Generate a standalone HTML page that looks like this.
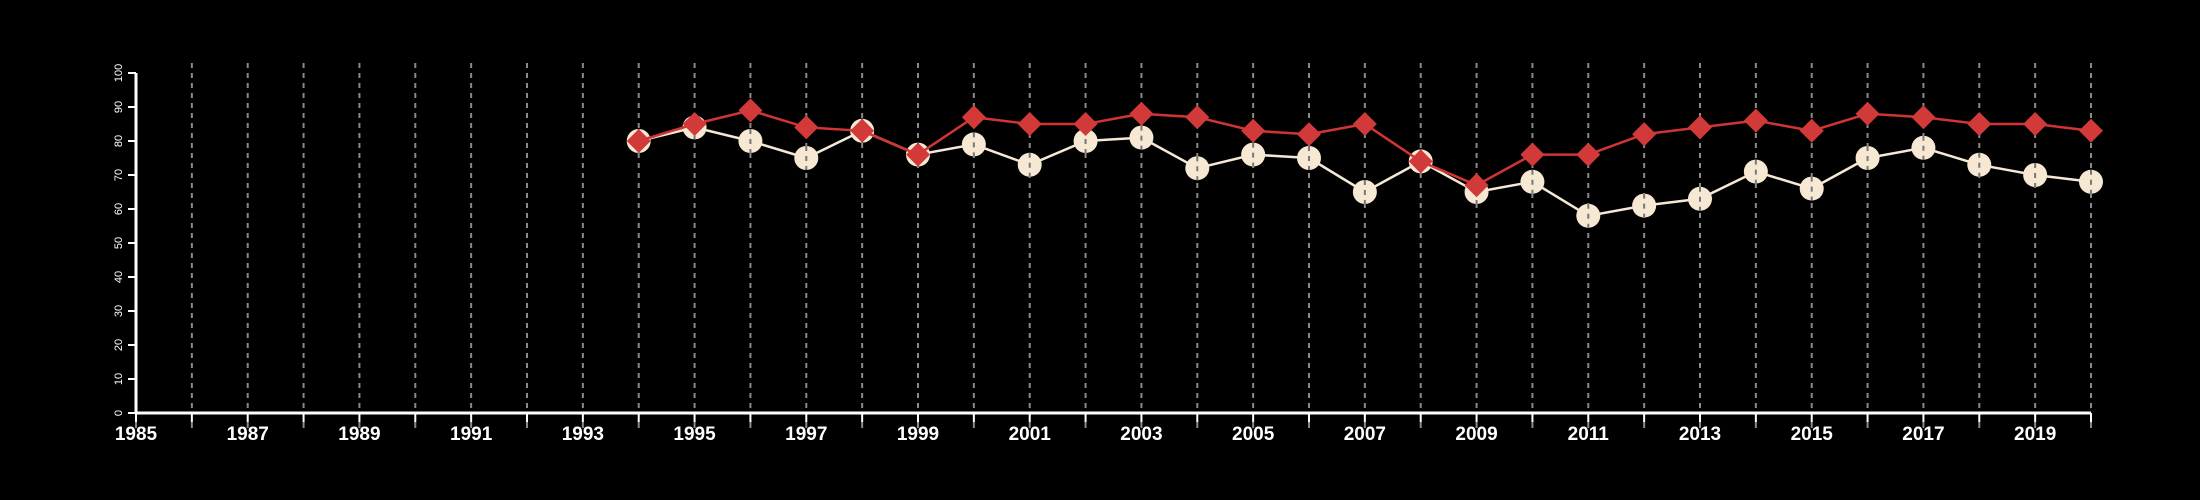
<!DOCTYPE html>
<html><head><meta charset="utf-8"><style>
html,body{margin:0;padding:0;background:#000;}
svg{display:block;font-family:"Liberation Sans",Arial,sans-serif;}
</style></head><body>
<svg id="chart" width="2200" height="500" viewBox="0 0 2200 500">
<rect width="2200" height="500" fill="#000"/>
<g id="grid"></g><g id="axes"></g><g id="series"></g>
</svg>
<script>
const years = [1994,1995,1996,1997,1998,1999,2000,2001,2002,2003,2004,2005,2006,2007,2008,2009,2010,2011,2012,2013,2014,2015,2016,2017,2018,2019,2020];
const redValues = [80,85,89,84,83,76,87,85,85,88,87,83,82,85,74,67,76,76,82,84,86,83,88,87,85,85,83];
const whiteValues = [80,84,80,75,83,76,79,73,80,81,72,76,75,65,74,65,68,58,61,63,71,66,75,78,73,70,68];
const yTicks = [0,10,20,30,40,50,60,70,80,90,100];
const xStart = 1985, xEnd = 2020;

const NS = "http://www.w3.org/2000/svg";
const X = y => 136 + (y - xStart) * (2091 - 136) / (xEnd - xStart);
const Y = v => 413 - v * (413 - 73) / 100;
function mk(tag, attrs, parent){const e=document.createElementNS(NS,tag);for(const k in attrs)e.setAttribute(k,attrs[k]);parent.appendChild(e);return e;}
const grid=document.getElementById('grid'),axes=document.getElementById('axes'),series=document.getElementById('series');

for(let yr=xStart+1; yr<=xEnd; yr++){
  const l=mk('line',{x1:X(yr),x2:X(yr),y1:63,y2:413,stroke:'#8a8a8a','stroke-width':2,'stroke-dasharray':'5,5'},grid);
  
  
}
const xa=mk('line',{x1:X(xStart),x2:X(xEnd),y1:413,y2:413,stroke:'#fff','stroke-width':3},axes);


for(let yr=xStart; yr<=xEnd; yr++){
  const t=mk('line',{x1:X(yr),x2:X(yr),y1:413,y2:422,stroke:'#fff','stroke-width':2},axes);
  
  
  const d=mk('line',{x1:X(yr),x2:X(yr),y1:422,y2:428,stroke:'#8a8a8a','stroke-width':2},axes);
  
  
  if((yr-xStart)%2===0){
    const tx=mk('text',{x:X(yr),y:440,fill:'#fff','font-size':19,'font-weight':'bold','text-anchor':'middle'},axes);
    tx.textContent=yr;
    
    
  }
}
const ya=mk('line',{x1:136,x2:136,y1:Y(0),y2:Y(100),stroke:'#fff','stroke-width':3},axes);


yTicks.forEach(v=>{
  const t=mk('line',{x1:128,x2:136,y1:Y(v),y2:Y(v),stroke:'#fff','stroke-width':2},axes);
  
  
  const tx=mk('text',{x:0,y:0,fill:'#fff','font-size':11,'text-anchor':'middle',transform:`translate(122,${Y(v)}) rotate(-90)`},axes);
  tx.textContent=v;
  
  
});

// white series
const wp=mk('polyline',{points:years.map((y,i)=>X(y)+','+Y(whiteValues[i])).join(' '),fill:'none',stroke:'#f5e9d6','stroke-width':2.5},series);


years.forEach((y,i)=>{
  const c=mk('circle',{cx:X(y),cy:Y(whiteValues[i]),r:12,fill:'#f7e8d3'},series);
  
  
  const g=mk('line',{x1:X(y),x2:X(y),y1:Y(whiteValues[i])-12,y2:Y(whiteValues[i])+12,stroke:'#777','stroke-width':2,'stroke-dasharray':'5,5'},series);
  
  
});
// red series
const rp=mk('polyline',{points:years.map((y,i)=>X(y)+','+Y(redValues[i])).join(' '),fill:'none',stroke:'#d03535','stroke-width':2.5},series);


years.forEach((y,i)=>{
  const cx=X(y),cy=Y(redValues[i]),s=12;
  const d=mk('polygon',{points:`${cx},${cy-s} ${cx+s},${cy} ${cx},${cy+s} ${cx-s},${cy}`,fill:'#d23a3a'},series);
  
  
});
</script>
</body></html>
